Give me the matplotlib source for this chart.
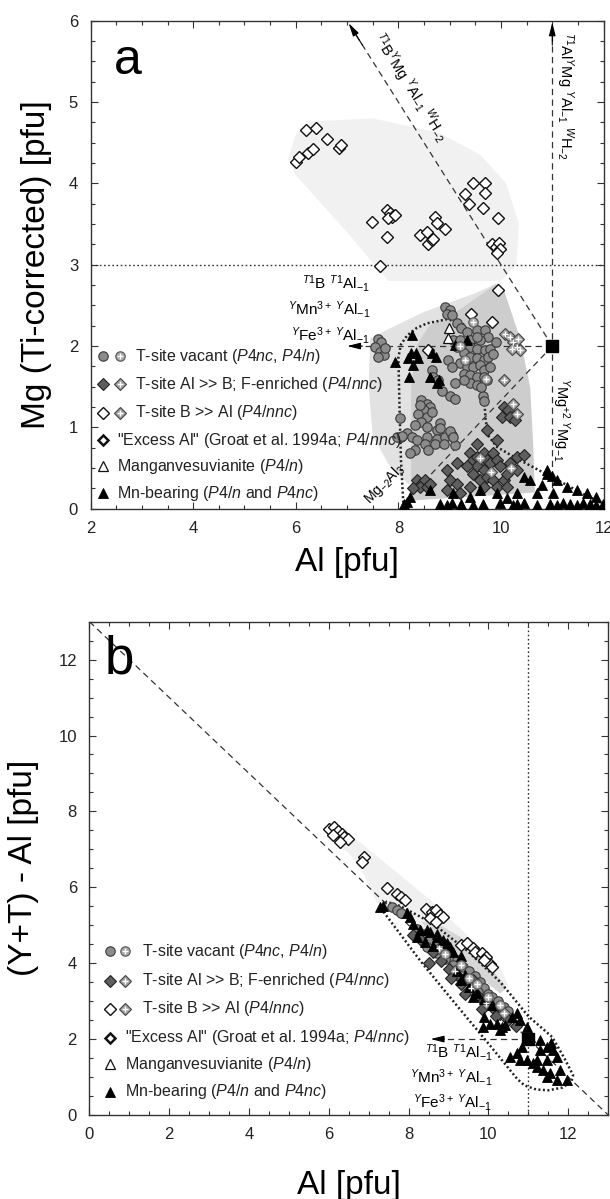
import matplotlib
matplotlib.use("Agg")
import matplotlib.pyplot as plt
from matplotlib.patches import Polygon
from matplotlib.ticker import MultipleLocator

FONT = "Liberation Sans"
plt.rcParams["font.family"] = FONT
plt.rcParams["mathtext.fontset"] = "custom"
plt.rcParams["mathtext.rm"] = FONT
plt.rcParams["mathtext.it"] = FONT + ":italic"

# ---------------------------------------------------------------- panel a data
# T-site vacant (grey circles)
A_VAC_X = [7.61, 7.67, 7.54, 7.64, 7.71, 7.61, 7.74,
           8.03, 8.45, 8.55, 8.62, 8.49, 8.39, 8.55, 8.65, 8.45, 8.32, 8.55, 8.75, 8.16,
           8.06, 8.26, 8.36, 8.55, 8.75, 8.91, 9.04, 9.01, 8.81, 8.81, 8.32, 8.23, 8.71,
           8.88, 9.10, 8.52, 7.97, 8.08, 8.43, 8.58, 9.07, 9.64, 9.66,
           8.91, 9.01, 8.94, 9.04, 9.14, 9.23, 9.33, 9.40, 9.53, 9.69, 9.75, 9.59, 9.40,
           9.53, 9.69, 9.79, 9.27, 9.40, 9.53, 9.66, 9.75, 9.20, 9.33, 9.46, 9.59, 9.66,
           9.79, 9.27, 9.40, 9.53, 9.66, 9.72, 9.40, 9.53, 9.62, 9.27, 8.65, 8.68, 8.78,
           8.97, 9.04, 9.14, 9.07, 9.20, 9.53, 9.01, 9.10, 8.85, 9.85, 9.90, 9.10]
A_VAC_Y = [2.09, 2.05, 1.99, 1.93, 1.89, 1.87, 1.98,
           1.11, 1.34, 1.29, 1.25, 1.21, 1.17, 1.13, 1.19, 1.07, 1.03, 1.01, 0.97, 0.93,
           0.88, 0.88, 0.84, 0.88, 0.86, 0.88, 0.91, 0.95, 1.05, 0.99, 0.72, 0.68, 0.80,
           0.80, 0.78, 0.80, 0.88, 0.90, 1.27, 0.72, 0.88, 1.38, 1.32,
           2.48, 2.44, 2.40, 2.38, 2.28, 2.22, 2.17, 2.07, 2.20, 2.20, 2.11, 2.07, 1.99,
           1.97, 1.95, 1.97, 1.91, 1.87, 1.85, 1.83, 1.87, 1.79, 1.74, 1.74, 1.77, 1.70,
           1.74, 1.66, 1.64, 1.62, 1.62, 1.58, 1.54, 1.52, 1.50, 1.58, 1.70, 1.62, 1.58,
           1.83, 1.74, 1.99, 2.07, 2.07, 2.11, 1.38, 1.35, 1.45, 1.90, 2.05, 1.55]
A_VAC2_X = [9.30, 9.70, 9.20, 9.45]
A_VAC2_Y = [1.83, 1.60, 2.00, 2.30]

# T-site Al >> B (dark diamonds)
A_ALB_X = [8.36, 8.45, 8.52, 8.42, 8.55, 8.29, 8.62, 9.01, 9.14, 8.94, 9.20, 9.40, 9.46,
           9.53, 9.59, 9.66, 9.72, 9.53, 9.66, 9.79, 9.85, 9.92, 9.98, 9.46, 9.59, 9.72,
           9.85, 10.05, 10.11, 10.18, 10.31, 10.44, 10.31, 9.40, 9.66, 9.92, 10.11, 9.72,
           9.92, 9.53, 9.33, 9.14, 8.94, 10.05, 10.14, 10.01, 10.18, 10.27]
A_ALB_Y = [0.35, 0.31, 0.35, 0.27, 0.27, 0.25, 0.31, 0.35, 0.31, 0.23, 0.19, 0.68, 0.60,
           0.64, 0.56, 0.68, 0.60, 0.52, 0.48, 0.56, 0.68, 0.60, 0.52, 0.43, 0.35, 0.39,
           0.35, 0.35, 0.43, 0.56, 0.64, 0.66, 0.48, 0.27, 0.27, 0.27, 0.27, 0.97,
           0.84, 0.80, 0.52, 0.56, 0.48, 1.25, 1.21, 1.13, 1.13, 1.09]
# diamonds with cross
A_DX_X = [10.08, 10.18, 10.24, 10.31, 10.37, 10.21, 10.34, 10.24, 10.31, 10.05, 9.60, 9.80, 10.20]
A_DX_Y = [2.15, 2.11, 2.05, 1.99, 1.95, 1.97, 2.09, 1.29, 1.17, 1.58, 0.62, 0.45, 0.50]

# T-site B >> Al (open diamonds)
A_BAL_X = [6.00, 6.07, 6.23, 6.34, 6.20, 6.40, 6.60, 6.84, 6.88,
           7.48, 7.77, 7.84, 7.87, 7.80, 7.93, 7.77, 8.42, 8.55, 8.71, 8.75, 8.91, 8.58,
           8.65, 8.68, 7.64,
           9.30, 9.45, 9.68, 9.68, 9.37, 9.64, 9.94, 9.83, 9.90, 9.96, 9.98, 9.93,
           9.94, 9.41, 9.83, 8.58]
A_BAL_Y = [4.26, 4.33, 4.37, 4.42, 4.66, 4.68, 4.54, 4.43, 4.47,
           3.53, 3.67, 3.63, 3.59, 3.57, 3.61, 3.34, 3.36, 3.40, 3.59, 3.51, 3.44, 3.26,
           3.30, 3.32, 2.99,
           3.87, 4.00, 4.00, 3.88, 3.75, 3.70, 3.57, 3.26, 3.22, 3.27, 3.19, 3.14,
           2.69, 2.40, 2.30, 1.95]

# Manganvesuvianite (open triangles)
A_MNV_X = [8.96, 8.98]
A_MNV_Y = [2.10, 2.22]

# Mn-bearing (black triangles)
A_MN_X = [8.27, 7.93, 8.24, 8.35, 8.39, 8.19, 8.29, 8.20, 8.62, 8.80, 9.34, 9.10, 8.73, 8.65, 8.75,
          8.10, 8.16, 8.81, 8.94, 9.04, 9.23, 9.46, 9.65, 9.98, 10.24, 10.31, 10.44, 10.70,
          10.95, 11.09, 11.21, 11.34, 11.48, 11.60, 11.73, 11.86, 11.99, 12.08,
          10.89, 10.57, 10.44, 10.79, 11.09, 11.28, 11.48, 11.67, 11.86, 11.02, 10.70,
          10.31, 10.11, 9.92, 9.59, 9.40, 9.07, 8.62, 8.23, 10.89, 11.00]
A_MN_Y = [2.13, 1.81, 1.91, 1.91, 1.85, 1.85, 1.77, 1.62, 1.62, 1.58, 2.07, 2.01, 1.87, 1.91, 1.54,
          0.06, 0.08, 0.06, 0.05, 0.07, 0.06, 0.05, 0.06, 0.07, 0.05, 0.06, 0.07, 0.05,
          0.06, 0.05, 0.07, 0.06, 0.05, 0.07, 0.06, 0.05, 0.06, 0.05,
          0.43, 0.35, 0.39, 0.29, 0.35, 0.27, 0.23, 0.19, 0.15, 0.19, 0.19,
          0.19, 0.13, 0.19, 0.23, 0.15, 0.19, 0.23, 0.15, 0.48, 0.40]

# shaded fields and envelope (panel a)
A_FIELD_UP = [(5.85, 4.30), (6.00, 4.60), (6.30, 4.76), (7.50, 4.80), (8.80, 4.62),
              (9.60, 4.35), (10.10, 4.00), (10.35, 3.50), (10.30, 3.00), (10.00, 2.80),
              (7.80, 2.80), (7.00, 3.40), (6.00, 4.10)]
A_FIELD_LIGHT = [(7.45, 2.10), (8.50, 2.42), (9.50, 2.65), (9.95, 2.78), (10.30, 2.20),
                 (10.55, 1.40), (10.60, 0.50), (8.20, 0.30), (7.85, 0.50), (7.50, 0.90),
                 (7.42, 1.50)]
A_FIELD_DARK = [(8.25, 0.10), (8.25, 1.50), (8.35, 2.00), (8.60, 2.25), (9.20, 2.45),
                (9.90, 2.76), (10.05, 2.70), (10.37, 2.10), (10.57, 1.49), (10.63, 0.75),
                (10.66, 0.20)]
A_ENV_X = [8.10, 8.05, 8.02, 8.00, 8.05, 8.17, 8.35, 8.56, 8.95, 9.25, 9.45, 9.60, 9.66,
           9.70, 9.75, 9.92, 10.30, 10.60, 11.20, 11.70, 12.00]
A_ENV_Y = [0.02, 0.60, 1.30, 1.86, 2.02, 2.13, 2.22, 2.28, 2.33, 2.28, 2.10, 1.80, 1.46,
           1.10, 0.90, 0.76, 0.62, 0.52, 0.32, 0.15, 0.06]

# ---------------------------------------------------------------- panel b data
B_VAC_X = [7.57, 7.70, 7.82, 8.37, 8.53, 8.70, 8.45, 8.87, 8.70, 9.04, 9.20, 9.35, 9.50,
           9.65, 9.80, 9.90, 10.00, 10.10, 9.40, 9.60, 9.75, 10.25, 10.40, 8.20, 8.90,
           9.10, 10.50]
B_VAC_Y = [5.48, 5.39, 5.31, 4.78, 4.61, 4.52, 4.43, 4.34, 4.26, 4.17, 4.08, 3.90, 3.80,
           3.65, 3.50, 3.35, 3.20, 3.10, 3.60, 3.40, 3.25, 3.00, 2.85, 4.90, 4.10,
           3.95, 2.75]
B_VAC2_X = [9.30, 9.70, 10.00, 10.30, 8.90, 9.50]
B_VAC2_Y = [3.95, 3.45, 3.10, 2.90, 4.25, 3.60]
B_ALB_X = [8.10, 8.30, 8.60, 8.80, 9.00, 9.20, 9.30, 9.50, 9.70, 9.90, 10.10, 10.30, 10.50,
           10.70, 9.60, 9.05, 9.40, 9.85, 10.20, 8.50]
B_ALB_Y = [4.75, 4.60, 4.30, 4.05, 3.85, 3.70, 3.45, 3.30, 3.15, 3.00, 2.85, 2.65, 2.50,
           2.35, 3.55, 3.60, 3.20, 2.80, 2.60, 4.00]
B_DX_X = [9.15, 9.55, 9.95, 10.40, 8.75]
B_DX_Y = [3.80, 3.35, 2.95, 2.70, 4.40]
B_BAL_X = [6.00, 6.14, 6.24, 6.34, 6.39, 6.48, 6.29, 6.10, 6.87, 6.83,
           7.46, 7.70, 7.80, 7.90, 8.44, 8.58, 8.68, 8.78, 8.87, 8.53, 8.68,
           9.31, 9.46, 9.61, 9.65, 9.85, 9.95, 10.05, 10.09, 9.90]
B_BAL_Y = [7.54, 7.59, 7.48, 7.41, 7.32, 7.28, 7.19, 7.37, 6.80, 6.67,
           5.97, 5.83, 5.75, 5.66, 5.44, 5.35, 5.39, 5.26, 5.22, 5.18, 5.09,
           4.47, 4.52, 4.39, 4.30, 4.26, 4.17, 3.99, 3.90, 4.08]
B_MN_X = [7.28, 7.36, 7.95, 8.03, 8.12, 8.28, 8.53, 8.70, 8.95, 8.87, 9.04, 8.45, 8.70,
          8.20, 8.40, 8.60, 9.10, 9.30, 9.20, 9.40, 9.60,
          9.30, 9.50, 9.70, 9.90, 10.10, 10.34, 9.90,
          9.87, 10.04, 10.29, 10.41, 10.58, 10.71, 10.79, 10.96, 10.54, 10.71, 10.83,
          10.79, 10.96, 11.12, 11.29, 11.46, 11.62, 11.71, 11.21, 11.37, 11.54, 11.79,
          11.96, 11.71, 11.46, 11.21, 11.46, 11.29, 11.04, 10.21, 11.56]
B_MN_Y = [5.48, 5.52, 5.31, 5.22, 5.04, 4.87, 4.82, 4.69, 4.52, 4.61, 4.43, 4.87, 4.78,
          4.70, 4.55, 4.45, 4.30, 4.20, 3.80, 3.70, 3.10,
          3.55, 3.38, 3.22, 3.05, 2.90, 2.32, 2.59,
          2.32, 2.41, 2.24, 2.37, 2.59, 2.68, 2.50, 2.32, 1.53, 1.62, 1.80,
          1.45, 1.45, 1.36, 1.71, 1.80, 1.71, 1.53, 1.27, 1.18, 1.10, 1.18,
          0.92, 0.92, 1.01, 1.45, 1.45, 1.97, 2.06, 2.41, 1.89]
B_FIELD_LIGHT = [(5.95, 7.60), (6.10, 7.75), (7.00, 7.00), (8.50, 5.70), (10.30, 3.90),
                 (10.50, 3.40), (10.00, 3.50), (8.00, 5.20), (7.20, 5.60), (6.90, 6.30),
                 (6.50, 6.90), (5.95, 7.30)]
B_FIELD_MID = [(8.30, 5.10), (8.80, 5.00), (9.60, 4.50), (10.45, 3.35), (10.30, 3.20),
               (9.20, 4.10)]
B_ENV_X = [7.30, 8.30, 9.10, 10.00, 10.72, 10.90, 11.20, 11.50, 11.85, 12.08, 12.12,
           11.90, 11.60, 11.00, 10.30, 9.50, 8.60, 7.80, 7.45, 7.30]
B_ENV_Y = [5.45, 4.05, 3.02, 1.88, 0.95, 0.78, 0.67, 0.65, 0.72, 0.88, 1.05,
           1.50, 2.05, 2.60, 3.50, 4.30, 5.05, 5.50, 5.62, 5.45]

END_X, END_Y = 11, 2   # black square end member

# ---------------------------------------------------------------- styles
DASH = (0, (5, 3.5))
VAC = dict(marker="o", ms=6.8, mfc="#8c8c8c", mec="#3a3a3a", mew=0.8, ls="none")
VAC2 = dict(marker="o", ms=6.8, mfc="#a8a8a8", mec="#555555", mew=0.8, ls="none")
ALB = dict(marker="D", ms=6.0, mfc="#5e5e5e", mec="#222222", mew=0.8, ls="none")
DX = dict(marker="D", ms=6.0, mfc="#a0a0a0", mec="#444444", mew=0.8, ls="none")
BAL = dict(marker="D", ms=6.0, mfc="white", mec="#111111", mew=1.0, ls="none")
EXC = dict(marker="D", ms=5.0, mfc="white", mec="#111111", mew=1.8, ls="none")
MNV = dict(marker="^", ms=7.5, mfc="white", mec="#111111", mew=0.9, ls="none")
MN = dict(marker="^", ms=7.5, mfc="black", mec="black", mew=0.6, ls="none")
CROSS = dict(marker="+", ms=5, mec="white", mew=1.0, ls="none")


def head(ax, tip, back):
    ax.annotate("", xy=tip, xytext=back,
                arrowprops=dict(arrowstyle="-|>,head_length=0.8,head_width=0.2",
                                fc="k", ec="k", lw=0.8, shrinkA=0, shrinkB=0))


def style_axes(ax, xmaj, xmin, ymaj, ymin):
    ax.xaxis.set_major_locator(MultipleLocator(xmaj))
    ax.xaxis.set_minor_locator(MultipleLocator(xmin))
    ax.yaxis.set_major_locator(MultipleLocator(ymaj))
    ax.yaxis.set_minor_locator(MultipleLocator(ymin))
    ax.tick_params(which="both", direction="in", top=True, right=True, width=0.8,
                   color="#333333")
    ax.tick_params(which="major", length=5, labelsize=12, pad=9, labelcolor="#222222")
    ax.tick_params(which="minor", length=3)
    for s in ax.spines.values():
        s.set_linewidth(1.0)
        s.set_color("#333333")


def plot_data(ax, vac, vac2, alb, dx, bal, mn, mnv=None):
    ax.plot(*vac, **VAC, zorder=4)
    ax.plot(*alb, **ALB, zorder=4)
    ax.plot(*dx, **DX, zorder=4)
    ax.plot(*dx, **CROSS, zorder=5)
    ax.plot(*bal, **BAL, zorder=4)
    ax.plot(*vac2, **VAC2, zorder=5)
    ax.plot(*vac2, **CROSS, zorder=5)
    ax.plot(*mn, **MN, zorder=4)
    if mnv is not None:
        ax.plot(*mnv, **MNV, zorder=5)


def legend(ax, xs, xtxt1, xtxt2, ys):
    t = ax.transAxes
    rows = [
        ([VAC, VAC2], "T-site vacant ($P$4$nc$, $P$4/$n$)"),
        ([ALB, DX], "T-site Al >> B; F-enriched ($P$4/$nnc$)"),
        ([BAL, DX], "T-site B >> Al ($P$4/$nnc$)"),
        ([EXC], "\"Excess Al\" (Groat et al. 1994a; $P$4/$nnc$)"),
        ([MNV], "Manganvesuvianite ($P$4/$n$)"),
        ([MN], "Mn-bearing ($P$4/$n$ and $P$4$nc$)"),
    ]
    for (styles, label), y in zip(rows, ys):
        for st, x in zip(styles, xs):
            ax.plot([x], [y], transform=t, clip_on=False, zorder=6, **st)
            if st is VAC2 or st is DX:
                ax.plot([x], [y], transform=t, clip_on=False, zorder=7, **CROSS)
        xt = xtxt1 if len(styles) == 2 else xtxt2
        ax.text(xt, y, label, transform=t, fontsize=11.5, va="center", ha="left",
                color="#222222", zorder=6)


fig = plt.figure(figsize=(6.1, 11.99), dpi=100)

# ================================================================ panel a
ax = fig.add_axes([0.1485, 0.5757, 0.841, 0.4070])
ax.set_xlim(2, 12)
ax.set_ylim(0, 6)
style_axes(ax, 2, 0.5, 1, 0.25)

ax.add_patch(Polygon(A_FIELD_UP, closed=True, fc="#f1f1f1", ec="none", zorder=0))
ax.add_patch(Polygon(A_FIELD_LIGHT, closed=True, fc="#e2e2e2", ec="none", zorder=0))
ax.add_patch(Polygon(A_FIELD_DARK, closed=True, fc="#cdcdcd", ec="none", zorder=0))

ax.axhline(3, color="#333333", lw=1.0, ls=(0, (1.2, 1.8)), zorder=1)
ax.plot([END_X, END_X], [0, 5.9], color="#333333", lw=0.9, ls=DASH, zorder=2)
ax.plot([END_X, 7.1], [END_Y, 5.9], color="#333333", lw=0.9, ls=DASH, zorder=2)
ax.plot([END_X, 7.1], [END_Y, END_Y], color="#333333", lw=0.9, ls=DASH, zorder=2)
ax.plot([END_X, 8.0], [END_Y, 0.0], color="#333333", lw=0.9, ls=DASH, zorder=2)
head(ax, (11.0, 5.98), (11.0, 5.7))
head(ax, (7.03, 5.97), (7.3, 5.7))
head(ax, (7.0, 2.0), (7.3, 2.0))
ax.plot(A_ENV_X, A_ENV_Y, color="#222222", lw=1.8, ls=(0, (0.8, 1.0)), zorder=3)

plot_data(ax, (A_VAC_X, A_VAC_Y), (A_VAC2_X, A_VAC2_Y), (A_ALB_X, A_ALB_Y),
          (A_DX_X, A_DX_Y), (A_BAL_X, A_BAL_Y), (A_MN_X, A_MN_Y), (A_MNV_X, A_MNV_Y))
ax.plot([END_X], [END_Y], marker="s", ms=8, color="black", zorder=6)

ax.text(2.73, 5.5, "a", fontsize=36, ha="center", va="center")
ax.text(8.22, 5.17, r"$^{T1}$B$^{Y}$Mg $^{Y}$Al$_{-1}$ $^{W}$H$_{-2}$", fontsize=10.5,
        rotation=-57.5, ha="center", va="center", rotation_mode="anchor")
ax.text(11.24, 5.08, r"$^{T1}$Al$^{Y}$Mg $^{Y}$Al$_{-1}$ $^{W}$H$_{-2}$", fontsize=10.5,
        rotation=-90, ha="center", va="center")
ax.text(11.17, 1.1, r"$^{Y}$Mg$^{+2\ Y}$Mg$_{-1}$", fontsize=10.5,
        rotation=-90, ha="center", va="center")
ax.text(7.45, 2.45, "$^{T1}$B $^{T1}$Al$_{-1}$\n$^{Y}$Mn$^{3+\\ Y}$Al$_{-1}$\n"
        "$^{Y}$Fe$^{3+\\ Y}$Al$_{-1}$", fontsize=11, ha="right", va="center",
        multialignment="right", linespacing=1.35)
ax.text(7.72, 0.3, r"Mg$_{-2}$Al$_{3}$", fontsize=10, rotation=45, ha="center",
        va="center")

legend(ax, [0.024, 0.058], 0.087, 0.051, [0.312, 0.255, 0.197, 0.140, 0.087, 0.032])
ax.set_xlabel("Al [pfu]", fontsize=24, labelpad=8)
ax.set_ylabel("Mg (Ti-corrected) [pfu]", fontsize=24, labelpad=12)

# ================================================================ panel b
bx = fig.add_axes([0.1467, 0.0701, 0.8503, 0.4114])
bx.set_xlim(0, 13)
bx.set_ylim(0, 13)
style_axes(bx, 2, 0.5, 2, 0.5)

bx.add_patch(Polygon(B_FIELD_LIGHT, closed=True, fc="#f0f0f0", ec="none", zorder=0))
bx.add_patch(Polygon(B_FIELD_MID, closed=True, fc="#d6d6d6", ec="none", zorder=0))

bx.plot([0, 13], [13, 0], color="#333333", lw=0.9, ls=DASH, zorder=2)
bx.axvline(END_X, color="#333333", lw=1.0, ls=(0, (1.2, 1.8)), zorder=1)
bx.plot([END_X, 8.7], [END_Y, END_Y], color="#333333", lw=0.9, ls=DASH, zorder=2)
head(bx, (8.55, 2.0), (8.9, 2.0))
bx.plot(B_ENV_X, B_ENV_Y, color="#222222", lw=1.8, ls=(0, (0.8, 1.0)), zorder=3)

plot_data(bx, (B_VAC_X, B_VAC_Y), (B_VAC2_X, B_VAC2_Y), (B_ALB_X, B_ALB_Y),
          (B_DX_X, B_DX_Y), (B_BAL_X, B_BAL_Y), (B_MN_X, B_MN_Y))
bx.plot([END_X], [END_Y], marker="s", ms=8, color="black", zorder=6)

bx.text(0.76, 12.0, "b", fontsize=38, ha="center", va="center")
bx.text(10.1, 0.98, "$^{T1}$B $^{T1}$Al$_{-1}$\n$^{Y}$Mn$^{3+\\ Y}$Al$_{-1}$\n"
        "$^{Y}$Fe$^{3+\\ Y}$Al$_{-1}$", fontsize=11, ha="right", va="center",
        multialignment="right", linespacing=1.25)

legend(bx, [0.039, 0.069], 0.102, 0.069, [0.332, 0.272, 0.215, 0.157, 0.103, 0.047])
bx.set_xlabel("Al [pfu]", fontsize=24, labelpad=20)
bx.set_ylabel("(Y+T) - Al [pfu]", fontsize=24, labelpad=14)

fig.savefig("out.png", dpi=100)
